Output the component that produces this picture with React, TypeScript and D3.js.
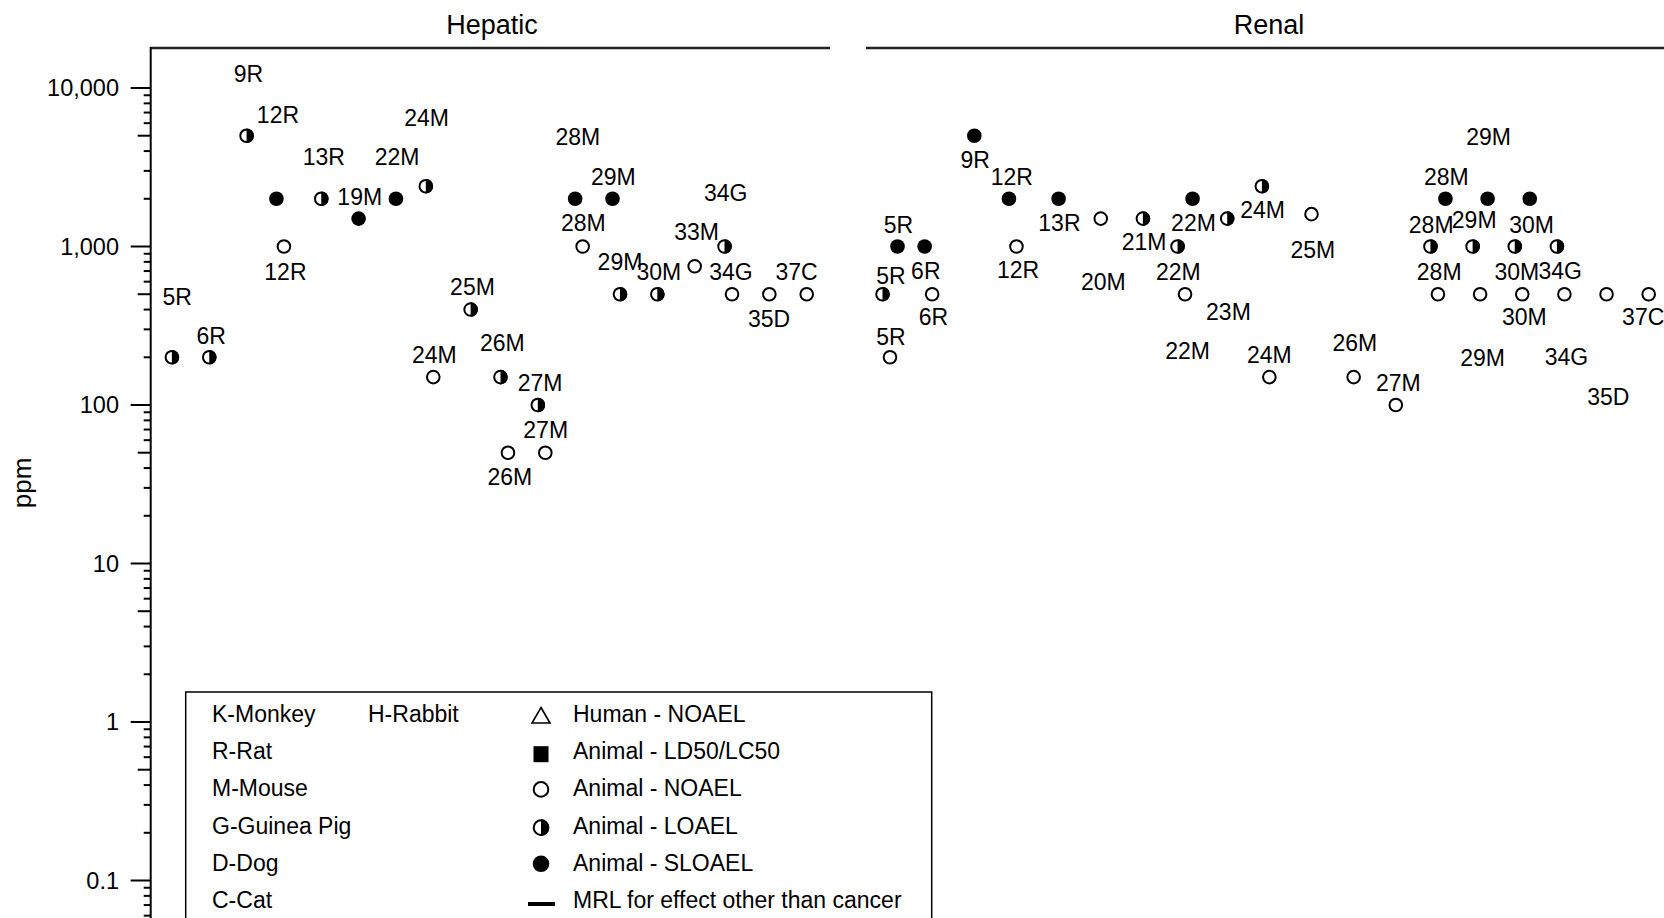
import React from "react";
import * as d3 from "d3";

// ---------- data ----------
type Kind = "NOAEL" | "LOAEL" | "SLOAEL";

const yTickValues = [10000, 1000, 100, 10, 1, 0.1];
const yTickLabels = ["10,000", "1,000", "100", "10", "1", "0.1"];

const hepaticPoints: { col: number; ppm: number; kind: Kind }[] = [
  { col: 0, ppm: 200, kind: "LOAEL" },
  { col: 1, ppm: 200, kind: "LOAEL" },
  { col: 2, ppm: 5000, kind: "LOAEL" },
  { col: 3, ppm: 2000, kind: "SLOAEL" },
  { col: 3, ppm: 1000, kind: "NOAEL" },
  { col: 4, ppm: 2000, kind: "LOAEL" },
  { col: 5, ppm: 1500, kind: "SLOAEL" },
  { col: 6, ppm: 2000, kind: "SLOAEL" },
  { col: 7, ppm: 2400, kind: "LOAEL" },
  { col: 7, ppm: 150, kind: "NOAEL" },
  { col: 8, ppm: 400, kind: "LOAEL" },
  { col: 9, ppm: 150, kind: "LOAEL" },
  { col: 9, ppm: 50, kind: "NOAEL" },
  { col: 10, ppm: 100, kind: "LOAEL" },
  { col: 10, ppm: 50, kind: "NOAEL" },
  { col: 11, ppm: 2000, kind: "SLOAEL" },
  { col: 11, ppm: 1000, kind: "NOAEL" },
  { col: 12, ppm: 2000, kind: "SLOAEL" },
  { col: 12, ppm: 500, kind: "LOAEL" },
  { col: 13, ppm: 500, kind: "LOAEL" },
  { col: 14, ppm: 750, kind: "NOAEL" },
  { col: 15, ppm: 1000, kind: "LOAEL" },
  { col: 15, ppm: 500, kind: "NOAEL" },
  { col: 16, ppm: 500, kind: "NOAEL" },
  { col: 17, ppm: 500, kind: "NOAEL" },
];

const hepaticLabels: { text: string; col: number; ppm: number }[] = [
  { text: "9R", col: 2.05, ppm: 12200 },
  { text: "12R", col: 2.84, ppm: 6800 },
  { text: "13R", col: 4.07, ppm: 3670 },
  { text: "22M", col: 6.03, ppm: 3670 },
  { text: "24M", col: 6.82, ppm: 6440 },
  { text: "19M", col: 5.03, ppm: 2040 },
  { text: "12R", col: 3.04, ppm: 693 },
  { text: "5R", col: 0.14, ppm: 480 },
  { text: "6R", col: 1.05, ppm: 271 },
  { text: "25M", col: 8.05, ppm: 553 },
  { text: "24M", col: 7.03, ppm: 207 },
  { text: "26M", col: 8.85, ppm: 245 },
  { text: "27M", col: 9.86, ppm: 137 },
  { text: "27M", col: 10.01, ppm: 69.6 },
  { text: "26M", col: 9.05, ppm: 35.3 },
  { text: "28M", col: 10.87, ppm: 4930 },
  { text: "29M", col: 11.82, ppm: 2757 },
  { text: "34G", col: 14.83, ppm: 2185 },
  { text: "28M", col: 11.02, ppm: 1401 },
  { text: "33M", col: 14.05, ppm: 1229 },
  { text: "29M", col: 12.0, ppm: 802 },
  { text: "30M", col: 13.04, ppm: 693 },
  { text: "34G", col: 14.97, ppm: 693 },
  { text: "37C", col: 16.73, ppm: 693 },
  { text: "35D", col: 15.99, ppm: 349 },
];

const renalPoints: { col: number; ppm: number; kind: Kind }[] = [
  { col: 0, ppm: 200, kind: "NOAEL" },
  { col: 0, ppm: 500, kind: "LOAEL" },
  { col: 0, ppm: 1000, kind: "SLOAEL" },
  { col: 1, ppm: 500, kind: "NOAEL" },
  { col: 1, ppm: 1000, kind: "SLOAEL" },
  { col: 2, ppm: 5000, kind: "SLOAEL" },
  { col: 3, ppm: 1000, kind: "NOAEL" },
  { col: 3, ppm: 2000, kind: "SLOAEL" },
  { col: 4, ppm: 2000, kind: "SLOAEL" },
  { col: 5, ppm: 1500, kind: "NOAEL" },
  { col: 6, ppm: 1500, kind: "LOAEL" },
  { col: 7, ppm: 500, kind: "NOAEL" },
  { col: 7, ppm: 1000, kind: "LOAEL" },
  { col: 7, ppm: 2000, kind: "SLOAEL" },
  { col: 8, ppm: 1500, kind: "LOAEL" },
  { col: 9, ppm: 150, kind: "NOAEL" },
  { col: 9, ppm: 2400, kind: "LOAEL" },
  { col: 10, ppm: 1600, kind: "NOAEL" },
  { col: 11, ppm: 150, kind: "NOAEL" },
  { col: 12, ppm: 100, kind: "NOAEL" },
  { col: 13, ppm: 500, kind: "NOAEL" },
  { col: 13, ppm: 1000, kind: "LOAEL" },
  { col: 13, ppm: 2000, kind: "SLOAEL" },
  { col: 14, ppm: 500, kind: "NOAEL" },
  { col: 14, ppm: 1000, kind: "LOAEL" },
  { col: 14, ppm: 2000, kind: "SLOAEL" },
  { col: 15, ppm: 500, kind: "NOAEL" },
  { col: 15, ppm: 1000, kind: "LOAEL" },
  { col: 15, ppm: 2000, kind: "SLOAEL" },
  { col: 16, ppm: 500, kind: "NOAEL" },
  { col: 16, ppm: 1000, kind: "LOAEL" },
  { col: 17, ppm: 500, kind: "NOAEL" },
  { col: 18, ppm: 500, kind: "NOAEL" },
];

const renalLabels: { text: string; col: number; ppm: number }[] = [
  { text: "9R", col: 2.02, ppm: 3513 },
  { text: "12R", col: 2.89, ppm: 2757 },
  { text: "5R", col: 0.2, ppm: 1367 },
  { text: "13R", col: 4.02, ppm: 1401 },
  { text: "22M", col: 7.2, ppm: 1401 },
  { text: "24M", col: 8.84, ppm: 1699 },
  { text: "21M", col: 6.03, ppm: 1063 },
  { text: "5R", col: 0.02, ppm: 651 },
  { text: "6R", col: 0.85, ppm: 704 },
  { text: "12R", col: 3.04, ppm: 711 },
  { text: "20M", col: 5.06, ppm: 600 },
  { text: "22M", col: 6.84, ppm: 693 },
  { text: "6R", col: 1.03, ppm: 357.6 },
  { text: "23M", col: 8.03, ppm: 388 },
  { text: "5R", col: 0.02, ppm: 270 },
  { text: "22M", col: 7.06, ppm: 219 },
  { text: "24M", col: 9.0, ppm: 207 },
  { text: "25M", col: 10.03, ppm: 951 },
  { text: "29M", col: 14.2, ppm: 4930 },
  { text: "28M", col: 13.2, ppm: 2757 },
  { text: "28M", col: 12.84, ppm: 1367 },
  { text: "29M", col: 13.86, ppm: 1470 },
  { text: "30M", col: 15.22, ppm: 1367 },
  { text: "28M", col: 13.03, ppm: 693 },
  { text: "30M", col: 14.87, ppm: 693 },
  { text: "34G", col: 15.9, ppm: 704 },
  { text: "30M", col: 15.05, ppm: 361 },
  { text: "37C", col: 17.87, ppm: 361 },
  { text: "26M", col: 11.03, ppm: 245 },
  { text: "27M", col: 12.06, ppm: 137 },
  { text: "29M", col: 14.06, ppm: 197 },
  { text: "34G", col: 16.05, ppm: 200 },
  { text: "35D", col: 17.04, ppm: 113 },
];

const panelTitles = ["Hepatic", "Renal"];
const yAxisTitle = "ppm";
const speciesLegend = ["K-Monkey", "R-Rat", "M-Mouse", "G-Guinea Pig", "D-Dog", "C-Cat"];
const speciesLegend2 = ["H-Rabbit"];
const symbolLegend = [
  "Human - NOAEL",
  "Animal - LD50/LC50",
  "Animal - NOAEL",
  "Animal - LOAEL",
  "Animal - SLOAEL",
  "MRL for effect other than cancer",
];

// ---------- layout ----------
const W = 1664;
const H = 918;
const FONT = "Arial, 'Liberation Sans', Helvetica, sans-serif";
const R = 7.3;

const y = d3.scaleLog().domain([0.1, 10000]).range([880.5, 88]);
const xHep = d3.scaleLinear().domain([0, 17]).range([171.9, 806.7]);
const xRen = d3.scaleLinear().domain([0, 18]).range([890, 1648.7]);

function withOffsets(points: { col: number; ppm: number; kind: Kind }[]) {
  const groups = d3.group(points, (p) => p.col);
  const out: { col: number; ppm: number; kind: Kind; off: number }[] = [];
  const offs = [0, -7.5, 7.5];
  groups.forEach((arr) => {
    const sorted = [...arr].sort((a, b) => a.ppm - b.ppm);
    sorted.forEach((p, i) => out.push({ ...p, off: offs[i] || 0 }));
  });
  return out;
}

function Marker({ cx, cy, kind, r = R }: { cx: number; cy: number; kind: Kind; r?: number }) {
  if (kind === "SLOAEL") return <circle cx={cx} cy={cy} r={r} fill="#000" />;
  if (kind === "NOAEL")
    return <circle cx={cx} cy={cy} r={r - 1} fill="#fff" stroke="#000" strokeWidth={2} />;
  return (
    <g>
      <circle cx={cx} cy={cy} r={r - 1} fill="#fff" stroke="#000" strokeWidth={2} />
      <path d={`M${cx},${cy - r} A${r},${r} 0 0 1 ${cx},${cy + r} Z`} fill="#000" />
    </g>
  );
}

function Panel({
  points,
  labels,
  x,
}: {
  points: { col: number; ppm: number; kind: Kind }[];
  labels: { text: string; col: number; ppm: number }[];
  x: d3.ScaleLinear<number, number>;
}) {
  const pts = withOffsets(points);
  return (
    <g>
      {pts.map((p, i) => (
        <Marker key={i} cx={x(p.col) + p.off} cy={y(p.ppm)} kind={p.kind} />
      ))}
      {labels.map((l, i) => (
        <text
          key={i}
          x={x(l.col)}
          y={y(l.ppm)}
          textAnchor="middle"
          dominantBaseline="central"
          fontSize={23}
          fontFamily={FONT}
          fill="#000"
        >
          {l.text}
        </text>
      ))}
    </g>
  );
}

export default function App() {
  const axisX = 150.7;
  const ticks: { v: number; len: number }[] = [];
  for (let e = -2; e <= 4; e++) {
    for (let m = 1; m <= 9; m++) {
      const v = m * Math.pow(10, e);
      if (v > 10000) continue;
      ticks.push({ v, len: m === 1 ? 20 : m === 5 ? 13 : 7 });
    }
  }
  const legendRows = d3.range(6).map((i) => 714 + i * 37.2);
  const symX = 541;
  return (
    <svg
      width={W}
      height={H}
      style={{ position: "absolute", left: 0, top: 0, background: "#fff" }}
      fontFamily={FONT}
    >
      <rect x={0} y={0} width={W} height={H} fill="#fff" />
      {/* panel titles */}
      <text x={492} y={25} textAnchor="middle" dominantBaseline="central" fontSize={27}>
        {panelTitles[0]}
      </text>
      <line x1={axisX} x2={830} y1={48} y2={48} stroke="#222" strokeWidth={2.5} />
      <text x={1269} y={25} textAnchor="middle" dominantBaseline="central" fontSize={27}>
        {panelTitles[1]}
      </text>
      <line x1={866} x2={W} y1={48} y2={48} stroke="#222" strokeWidth={2.5} />

      {/* y axis */}
      <line x1={axisX} x2={axisX} y1={47} y2={H + 5} stroke="#000" strokeWidth={2} />
      {ticks
        .filter((t) => y(t.v) < H + 5)
        .map((t, i) => (
          <line
            key={i}
            x1={axisX - t.len}
            x2={axisX}
            y1={y(t.v)}
            y2={y(t.v)}
            stroke="#000"
            strokeWidth={2}
          />
        ))}
      {yTickValues.map((v, i) => (
        <text
          key={i}
          x={119}
          y={y(v)}
          textAnchor="end"
          dominantBaseline="central"
          fontSize={23.5}
        >
          {yTickLabels[i]}
        </text>
      ))}
      <text
        transform={`translate(22,483) rotate(-90)`}
        textAnchor="middle"
        dominantBaseline="central"
        fontSize={26}
      >
        {yAxisTitle}
      </text>

      <Panel points={hepaticPoints} labels={hepaticLabels} x={xHep} />
      <Panel points={renalPoints} labels={renalLabels} x={xRen} />

      {/* legend */}
      <rect x={185.7} y={692} width={746} height={260} fill="#fff" stroke="#000" strokeWidth={1.5} />
      {speciesLegend.map((s, i) => (
        <text key={s} x={212} y={legendRows[i]} dominantBaseline="central" fontSize={23}>
          {s}
        </text>
      ))}
      {speciesLegend2.map((s, i) => (
        <text key={s} x={368} y={legendRows[i]} dominantBaseline="central" fontSize={23}>
          {s}
        </text>
      ))}
      {symbolLegend.map((s, i) => (
        <text key={s} x={573} y={legendRows[i]} dominantBaseline="central" fontSize={23}>
          {s}
        </text>
      ))}
      <path
        d={`M${symX},${legendRows[0] - 6.5} L${symX + 9},${legendRows[0] + 9} L${symX - 9},${legendRows[0] + 9} Z`}
        fill="#fff"
        stroke="#000"
        strokeWidth={1.6}
      />
      <rect x={symX - 7.5} y={legendRows[1] - 5} width={15} height={16} fill="#000" />
      <Marker cx={symX} cy={legendRows[2] + 1} kind="NOAEL" r={8.3} />
      <Marker cx={symX} cy={legendRows[3] + 2} kind="LOAEL" r={8.3} />
      <Marker cx={symX} cy={legendRows[4] + 1} kind="SLOAEL" r={8.3} />
      <line x1={528} x2={555} y1={legendRows[5] + 4} y2={legendRows[5] + 4} stroke="#000" strokeWidth={4} />
    </svg>
  );
}
